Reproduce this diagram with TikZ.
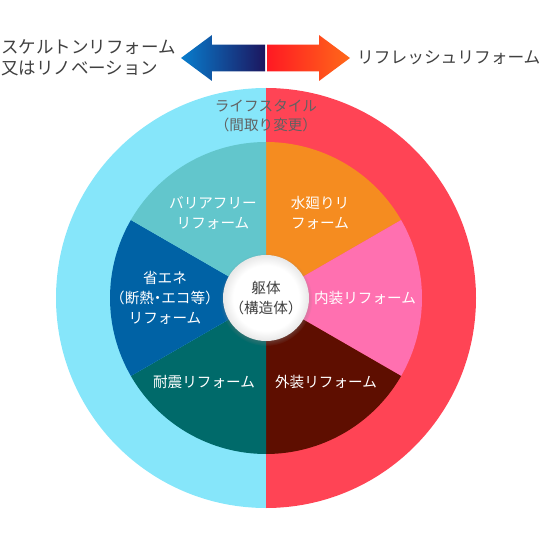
\documentclass[tikz,border=0pt]{standalone}
\usepackage{fontspec}
\setmainfont{Noto Sans CJK JP}[RawFeature={+halt}]
\usepackage{tikz}
\usetikzlibrary{shadows}
\definecolor{ringblue}{RGB}{134,230,250}
\definecolor{ringred}{RGB}{255,68,85}
\definecolor{secorange}{RGB}{245,140,32}
\definecolor{secpink}{RGB}{255,112,176}
\definecolor{secmaroon}{RGB}{94,14,0}
\definecolor{secteal}{RGB}{0,106,106}
\definecolor{secblue}{RGB}{0,98,165}
\definecolor{seclight}{RGB}{98,198,204}
\definecolor{arrblueA}{RGB}{8,125,205}
\definecolor{arrblueB}{RGB}{28,22,95}
\definecolor{arrredA}{RGB}{255,25,35}
\definecolor{arrredB}{RGB}{255,105,25}
\definecolor{txtgray}{RGB}{64,64,64}
\pgfdeclareradialshading{whitedisc}{\pgfpoint{0bp}{0bp}}{color(0bp)=(white); color(19bp)=(white); color(25bp)=(black!9); color(50bp)=(black!9)}
\tikzset{
  headlbl/.style={text=txtgray, align=left, inner sep=0pt,
    font=\fontsize{17.5}{21}\selectfont},
  seclbl/.style={text=white, align=center, inner sep=0pt,
    font=\fontsize{14.6}{20}\selectfont},
  toplbl/.style={text=black!62, align=center, inner sep=0pt,
    font=\fontsize{14.6}{19}\selectfont},
  core/.style={circle, minimum size=86pt, inner sep=0pt, align=center,
    shading=whitedisc, text=txtgray, font=\fontsize{14.6}{20}\selectfont,
    circular drop shadow={shadow xshift=0pt, shadow yshift=-1.5pt,
      shadow scale=1.08, opacity=0.45}}
}

\begin{document}
\begin{tikzpicture}[x=1pt, y=1pt]
  \def\Ro{210}
  \def\Ri{156}
  \useasboundingbox (-266,-237) rectangle (277,298);
  % outer ring halves
  \fill[ringblue] (0,\Ro) arc (90:270:\Ro) -- cycle;
  \fill[ringred] (0,-\Ro) arc (-90:90:\Ro) -- cycle;
  % six sectors
  \foreach \a/\col in {30/secorange, -30/secpink, -90/secmaroon,
                       -150/secteal, 150/secblue, 90/seclight}{
    \fill[\col] (0,0) -- (\a:\Ri) arc (\a:\a+60:\Ri) -- cycle;
  }
  % double arrow
  \shade[left color=arrblueA, right color=arrblueB]
    (-1,226.7) -- (-54,226.7) -- (-54,217) -- (-85,240) -- (-54,263)
    -- (-54,253.3) -- (-1,253.3) -- cycle;
  \shade[left color=arrredA, right color=arrredB]
    (1,226.7) -- (53,226.7) -- (53,217) -- (84,240) -- (53,263)
    -- (53,253.3) -- (1,253.3) -- cycle;
  \node[headlbl, anchor=west] (skel) at (-265,240) {スケルトンリフォーム\\又はリノベーション};
  \node[headlbl, anchor=west, font=\fontsize{16.7}{21}\selectfont] (refr) at (91,240) {リフレッシュリフォーム};
  \node[toplbl] (life) at (0,182) {ライフスタイル\\（間取り変更）};
  \node[seclbl] (barr) at (-53,85) {バリアフリー\\リフォーム};
  \node[seclbl] (water) at (54,85) {水廻りリ\\フォーム};
  \node[seclbl] (energy) at (-101,0) {省エネ\\（断熱・エコ等）\\リフォーム};
  \node[seclbl] (inner) at (99,0) {内装リフォーム};
  \node[seclbl] (quake) at (-62,-84) {耐震リフォーム};
  \node[seclbl] (outer) at (60,-84) {外装リフォーム};
  \node[core] (frame) at (0,0) {躯体\\（構造体）};
\end{tikzpicture}
\end{document}
